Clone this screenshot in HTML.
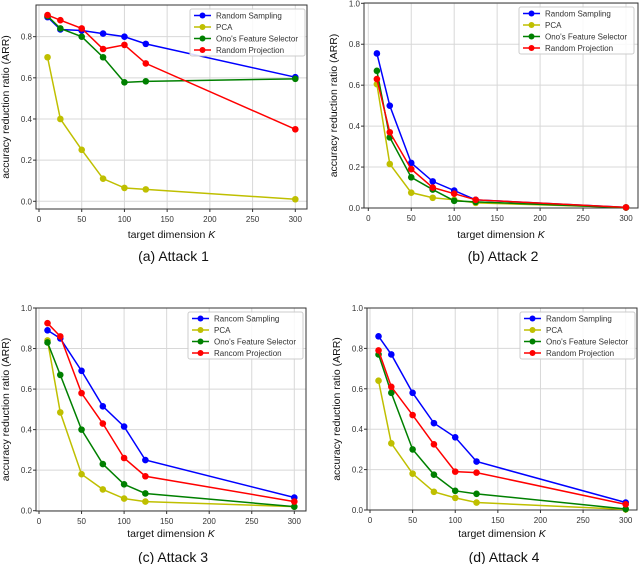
<!DOCTYPE html>
<html><head><meta charset="utf-8"><style>
body{margin:0;background:#fff;width:640px;height:564px;overflow:hidden}
svg{display:block;font-family:"Liberation Sans",sans-serif}
</style></head><body>
<svg id="fig" width="640" height="564" viewBox="0 0 640 564"></svg>
<script>
const xValues=[10,25,50,75,100,125,300];
const seriesNames=["Random Sampling","PCA","Ono's Feature Selector","Random Projection"];
const legendNamesCD=["Rancom Sampling","PCA","Ono's Feature Selector","Rancom Projection"];
const xTicks=[0,50,100,150,200,250,300];
const yTicksA=[0,0.2,0.4,0.6,0.8];
const yTicksB=[0,0.2,0.4,0.6,0.8,1.0];
const a_rs=[0.895,0.835,0.83,0.815,0.80,0.765,0.603];
const a_pca=[0.70,0.40,0.25,0.11,0.065,0.058,0.01];
const a_ono=[0.90,0.84,0.80,0.70,0.578,0.583,0.595];
const a_rp=[0.905,0.88,0.84,0.74,0.76,0.67,0.35];
const b_rs=[0.755,0.50,0.22,0.13,0.085,0.04,0.003];
const b_pca=[0.605,0.215,0.075,0.05,0.04,0.025,0.003];
const b_ono=[0.67,0.345,0.15,0.09,0.035,0.03,0.002];
const b_rp=[0.63,0.37,0.19,0.10,0.07,0.04,0.003];
const c_rs=[0.89,0.85,0.69,0.515,0.415,0.25,0.065];
const c_pca=[0.84,0.485,0.18,0.105,0.06,0.045,0.02];
const c_ono=[0.83,0.67,0.40,0.23,0.13,0.085,0.02];
const c_rp=[0.925,0.86,0.58,0.43,0.26,0.17,0.045];
const d_rs=[0.86,0.77,0.58,0.43,0.36,0.24,0.037];
const d_pca=[0.64,0.33,0.18,0.09,0.06,0.037,0.003];
const d_ono=[0.77,0.58,0.30,0.175,0.095,0.08,0.005];
const d_rp=[0.79,0.61,0.47,0.325,0.19,0.185,0.028];
const colors=["#0000ff","#bfbf00","#008000","#ff0000"];
const NS="http://www.w3.org/2000/svg";
const svg=document.getElementById('fig');
function mk(tag,attrs,parent,text){const e=document.createElementNS(NS,tag);for(const k in attrs)e.setAttribute(k,attrs[k]);if(text!==undefined)e.textContent=text;(parent||svg).appendChild(e);return e;}
const panels=[
 {id:'a',L:36,R:307,T:5,B:209,x0:39,x300:295.3,y0:201.3,ySlope:205.8,yt:yTicksA,series:[a_rs,a_pca,a_ono,a_rp],names:seriesNames,cap:"(a)  Attack 1",capY:261,xtY:238,leg:[190,9]},
 {id:'b',L:364,R:638,T:3,B:208,x0:368.3,x300:626,y0:208,ySlope:204.7,yt:yTicksB,series:[b_rs,b_pca,b_ono,b_rp],names:seriesNames,cap:"(b)  Attack 2",capY:261,xtY:238,leg:[519,7]},
 {id:'c',L:36,R:306,T:308,B:511,x0:39,x300:294.3,y0:510.7,ySlope:202.7,yt:yTicksB,series:[c_rs,c_pca,c_ono,c_rp],names:legendNamesCD,cap:"(c)  Attack 3",capY:562,xtY:537,leg:[188,312]},
 {id:'d',L:367,R:637,T:308,B:510,x0:370,x300:625.7,y0:510,ySlope:202,yt:yTicksB,series:[d_rs,d_pca,d_ono,d_rp],names:seriesNames,cap:"(d)  Attack 4",capY:562,xtY:537,leg:[520,312]}
];
panels.forEach(p=>{
 const g=mk('g',{},svg);
 
 
 const X=v=>p.x0+(p.x300-p.x0)*v/300;
 const Y=v=>p.y0-p.ySlope*v;
 xTicks.forEach(t=>{
  const l=mk('line',{x1:X(t),x2:X(t),y1:p.T,y2:p.B,stroke:'#d8d8d8','stroke-width':1},g);
  
  mk('line',{x1:X(t),x2:X(t),y1:p.B,y2:p.B+3,stroke:'#333'},g);
  const tx=mk('text',{x:X(t),y:p.B+13,'font-size':8,fill:'#333','text-anchor':'middle'},g,String(t));
  
 });
 p.yt.forEach(t=>{
  const l=mk('line',{x1:p.L,x2:p.R,y1:Y(t),y2:Y(t),stroke:'#d8d8d8','stroke-width':1},g);
  
  mk('line',{x1:p.L-3,x2:p.L,y1:Y(t),y2:Y(t),stroke:'#333'},g);
  const tx=mk('text',{x:p.L-4,y:Y(t)+3,'font-size':8,fill:'#333','text-anchor':'end'},g,t.toFixed(1));
  
 });
 const fr=mk('rect',{x:p.L,y:p.T,width:p.R-p.L,height:p.B-p.T,fill:'none',stroke:'#333','stroke-width':1},g);
 
 p.series.forEach((s,i)=>{
  const pts=s.map((v,j)=>X(xValues[j])+','+Y(v)).join(' ');
  const pl=mk('polyline',{points:pts,fill:'none',stroke:colors[i],'stroke-width':1.5},g);
  
  s.forEach((v,j)=>{
   const c=mk('circle',{cx:X(xValues[j]),cy:Y(v),r:3.3,fill:colors[i]},g);
   
  });
 });
 const cx=(p.L+p.R)/2;
 const xl=mk('text',{x:cx,y:p.xtY,'font-size':10.5,fill:'#111','text-anchor':'middle'},g);
 
 mk('tspan',{},xl,'target dimension ');mk('tspan',{'font-style':'italic'},xl,'K');
 const yc=(p.T+p.B)/2;
 const yl=mk('text',{x:p.L-27,y:yc,'font-size':10.5,fill:'#111','text-anchor':'middle',transform:`rotate(-90 ${p.L-27} ${yc})`},g,'accuracy reduction ratio (ARR)');
 
 const cap=mk('text',{x:cx+2,y:p.capY,'font-size':14,fill:'#111','text-anchor':'middle'},g,p.cap);
 
 const lg=mk('g',{},g);
 
 const [lx,ly]=p.leg;
 mk('rect',{x:lx,y:ly,width:115,height:47,fill:'#fff','fill-opacity':0.85,stroke:'#ccc',rx:2},lg);
 p.names.forEach((n,i)=>{
  const yy=ly+6.5+i*11.5;
  const e=mk('g',{},lg);
  
  mk('line',{x1:lx+4,x2:lx+21,y1:yy,y2:yy,stroke:colors[i],'stroke-width':1.5},e);
  mk('circle',{cx:lx+12.5,cy:yy,r:3,fill:colors[i]},e);
  mk('text',{x:lx+26,y:yy+3,'font-size':8,fill:'#333'},e,n);
 });
});
</script>
</body></html>
